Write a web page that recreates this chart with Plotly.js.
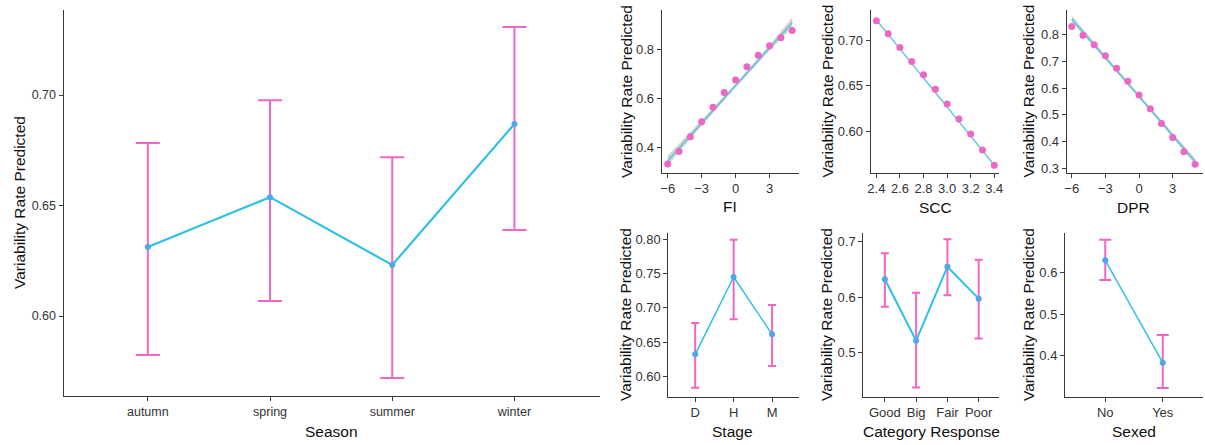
<!DOCTYPE html>
<html>
<head>
<meta charset="utf-8">
<script src="https://cdn.plot.ly/plotly-3.0.1.min.js"></script>
<style>html,body{margin:0;padding:0;background:#fff;}#chart{width:1205px;height:445px;}</style>
</head>
<body>
<div id="chart"></div>
<script>
// ---------- data ----------
const seasons = ["autumn", "spring", "summer", "winter"];
const seasonFit = [0.6312, 0.6538, 0.6231, 0.6869];
const seasonHi = [0.6783, 0.6977, 0.6719, 0.7308];
const seasonLo = [0.5824, 0.6068, 0.5720, 0.6389];

const fiX = [-6, -5, -4, -3, -2, -1, 0, 1, 2, 3, 4, 5];
const fiY = [0.333, 0.384, 0.444, 0.505, 0.564, 0.624, 0.675, 0.729, 0.776, 0.815, 0.847, 0.877];
const fiLineX = [-6, 5];
const fiLineY = [0.347, 0.908];
const fiBandX = [-6, -3, 0, 3, 5];
const fiBandLo = [0.327, 0.489, 0.645, 0.795, 0.888];
const fiBandHi = [0.368, 0.512, 0.661, 0.818, 0.929];

const sccX = [2.4, 2.5, 2.6, 2.7, 2.8, 2.9, 3.0, 3.1, 3.2, 3.3, 3.4];
const sccY = [0.7211, 0.7069, 0.692, 0.6767, 0.6621, 0.6462, 0.6301, 0.6138, 0.5974, 0.580, 0.5632];
const sccLineX = [2.4, 3.4];
const sccLineY = [0.722, 0.5635];

const dprX = [-6, -5, -4, -3, -2, -1, 0, 1, 2, 3, 4, 5];
const dprY = [0.831, 0.798, 0.762, 0.721, 0.674, 0.626, 0.574, 0.523, 0.468, 0.415, 0.362, 0.315];
const dprLineX = [-6, 5];
const dprLineY = [0.859, 0.325];
const dprBandX = [-6, 0, 5];
const dprBandLo = [0.847, 0.567, 0.313];
const dprBandHi = [0.871, 0.577, 0.337];

const stages = ["D", "H", "M"];
const stageFit = [0.6321, 0.745, 0.6613];
const stageHi = [0.6778, 0.7994, 0.7041];
const stageLo = [0.5831, 0.6832, 0.6151];

const responses = ["Good", "Big", "Fair", "Poor"];
const respFit = [0.632, 0.521, 0.6548, 0.597];
const respHi = [0.679, 0.6078, 0.7043, 0.6675];
const respLo = [0.5825, 0.4365, 0.6031, 0.5251];

const sexed = ["No", "Yes"];
const sexFit = [0.6288, 0.3832];
const sexHi = [0.6782, 0.4496];
const sexLo = [0.5815, 0.3227];

// ---------- styles ----------
const PINK = "#EE66C6";
const CYAN = "#2EC0E4";
const PTBLUE = "#4BA8EA";
const FITLINE = "#5CC3DC";
const BAND = "rgba(160,160,160,0.45)";
const AXC = "#3a3a3a";
const TICKC = "#333333";
const FONT = "Liberation Sans, Arial, sans-serif";

function catTrace(x, y, hi, lo, xa, ya, capw, lw, ms) {
  return {
    type: "scatter", mode: "lines+markers", x: x, y: y, xaxis: xa, yaxis: ya,
    line: {color: CYAN, width: lw},
    marker: {color: PTBLUE, size: ms},
    error_y: {type: "data", symmetric: false,
      array: y.map((v, i) => hi[i] - v),
      arrayminus: y.map((v, i) => v - lo[i]),
      color: PINK, thickness: 2, width: capw},
    showlegend: false, hoverinfo: "x+y"
  };
}
function bandTraces(bx, lo, hi, xa, ya) {
  return [
    {type: "scatter", mode: "lines", x: bx, y: lo, xaxis: xa, yaxis: ya,
     line: {width: 0, color: BAND}, showlegend: false, hoverinfo: "skip"},
    {type: "scatter", mode: "lines", x: bx, y: hi, xaxis: xa, yaxis: ya,
     line: {width: 0, color: BAND}, fill: "tonexty", fillcolor: BAND,
     showlegend: false, hoverinfo: "skip"}
  ];
}
function lineTrace(lx, ly, xa, ya) {
  return {type: "scatter", mode: "lines", x: lx, y: ly, xaxis: xa, yaxis: ya,
    line: {color: FITLINE, width: 1.5}, showlegend: false, hoverinfo: "skip"};
}
function ptTrace(px, py, xa, ya) {
  return {type: "scatter", mode: "markers", x: px, y: py, xaxis: xa, yaxis: ya,
    marker: {color: PINK, size: 7}, showlegend: false};
}

const traces = [
  catTrace(seasons, seasonFit, seasonHi, seasonLo, "x", "y", 12, 2.2, 6),
  ...bandTraces(fiBandX, fiBandLo, fiBandHi, "x2", "y2"),
  lineTrace(fiLineX, fiLineY, "x2", "y2"),
  ptTrace(fiX, fiY, "x2", "y2"),
  lineTrace(sccLineX, sccLineY, "x3", "y3"),
  ptTrace(sccX, sccY, "x3", "y3"),
  ...bandTraces(dprBandX, dprBandLo, dprBandHi, "x4", "y4"),
  lineTrace(dprLineX, dprLineY, "x4", "y4"),
  ptTrace(dprX, dprY, "x4", "y4"),
  catTrace(stages, stageFit, stageHi, stageLo, "x5", "y5", 4, 1.5, 6),
  catTrace(responses, respFit, respHi, respLo, "x6", "y6", 4, 2, 6),
  catTrace(sexed, sexFit, sexHi, sexLo, "x7", "y7", 6, 1.5, 6)
];

function ax(domain, range, extra, anchor, fs) {
  return Object.assign({
    domain: domain, range: range, anchor: anchor,
    showline: true, linecolor: AXC, linewidth: 1,
    ticks: "outside", ticklen: 4, tickcolor: AXC, tickwidth: 1,
    showgrid: false, zeroline: false, mirror: false,
    tickfont: {family: FONT, size: fs || 13, color: TICKC},
    fixedrange: true
  }, extra || {});
}
const W = 1205, H = 445;
const px = (a, b) => [a / W, b / W];
const py = (top, bot) => [(H - bot) / H, (H - top) / H];

const topY = py(10, 172.7), botY = py(233.3, 396.7);

const layout = {
  width: W, height: H,
  margin: {l: 0, r: 0, t: 0, b: 0},
  paper_bgcolor: "#fff", plot_bgcolor: "#fff",
  font: {family: FONT},
  showlegend: false,
  xaxis: ax(px(63.5, 600), [-0.69, 3.7], {type: "category"}, "y", 12.5),
  yaxis: ax(py(10, 396), [0.5638, 0.7385], {tickvals: [0.60, 0.65, 0.70], tickformat: ".2f"}, "x", 12.5),
  xaxis2: ax(px(661.7, 799), [-6.53, 5.6], {tickvals: [-6, -3, 0, 3]}, "y2"),
  yaxis2: ax(topY, [0.298, 0.96], {tickvals: [0.4, 0.6, 0.8], tickformat: ".1f"}, "x2"),
  xaxis3: ax(px(870.7, 999), [2.352, 3.44], {tickvals: [2.4, 2.6, 2.8, 3.0, 3.2, 3.4], tickformat: ".1f"}, "y3"),
  yaxis3: ax(topY, [0.5552, 0.7328], {tickvals: [0.60, 0.65, 0.70], tickformat: ".2f"}, "x3"),
  xaxis4: ax(px(1066.7, 1203), [-6.45, 5.7], {tickvals: [-6, -3, 0, 3]}, "y4"),
  yaxis4: ax(topY, [0.2835, 0.8924], {tickvals: [0.3, 0.4, 0.5, 0.6, 0.7, 0.8], tickformat: ".1f"}, "x4"),
  xaxis5: ax(px(668.3, 799), [-0.7, 2.7], {type: "category"}, "y5"),
  yaxis5: ax(botY, [0.5702, 0.8088], {tickvals: [0.60, 0.65, 0.70, 0.75, 0.80], tickformat: ".2f"}, "x5"),
  xaxis6: ax(px(863.3, 999), [-0.69, 3.65], {type: "category"}, "y6"),
  yaxis6: ax(botY, [0.4197, 0.7152], {tickvals: [0.5, 0.6, 0.7], tickformat: ".1f"}, "x6"),
  xaxis7: ax(px(1065, 1203), [-0.7, 1.7], {type: "category"}, "y7"),
  yaxis7: ax(botY, [0.3017, 0.6935], {tickvals: [0.4, 0.5, 0.6], tickformat: ".1f"}, "x7"),
  annotations: []
};

const YT = "Variability Rate Predicted";
function ytitle(x, yc) {
  layout.annotations.push({text: YT, xref: "paper", yref: "paper", x: x / W, y: (H - yc) / H,
    xanchor: "center", yanchor: "middle", textangle: -90, showarrow: false,
    font: {family: FONT, size: 15.5, color: "#111"}});
}
function xtitle(t, xc, y) {
  layout.annotations.push({text: t, xref: "paper", yref: "paper", x: xc / W, y: (H - y) / H,
    xanchor: "center", yanchor: "middle", showarrow: false,
    font: {family: FONT, size: 15.5, color: "#111"}});
}
ytitle(19, 203);
ytitle(626.5, 91.5); ytitle(827, 91.5); ytitle(1028, 91.5);
ytitle(625, 315); ytitle(826, 315); ytitle(1028, 315);
xtitle("Season", 331, 431.5);
xtitle("FI", 730, 206);
xtitle("SCC", 935, 207);
xtitle("DPR", 1133, 207);
xtitle("Stage", 733, 431.5);
xtitle("Category Response", 931, 431.5);
xtitle("Sexed", 1134, 431);

Plotly.newPlot("chart", traces, layout, {displayModeBar: false, staticPlot: true});
</script>
</body>
</html>
